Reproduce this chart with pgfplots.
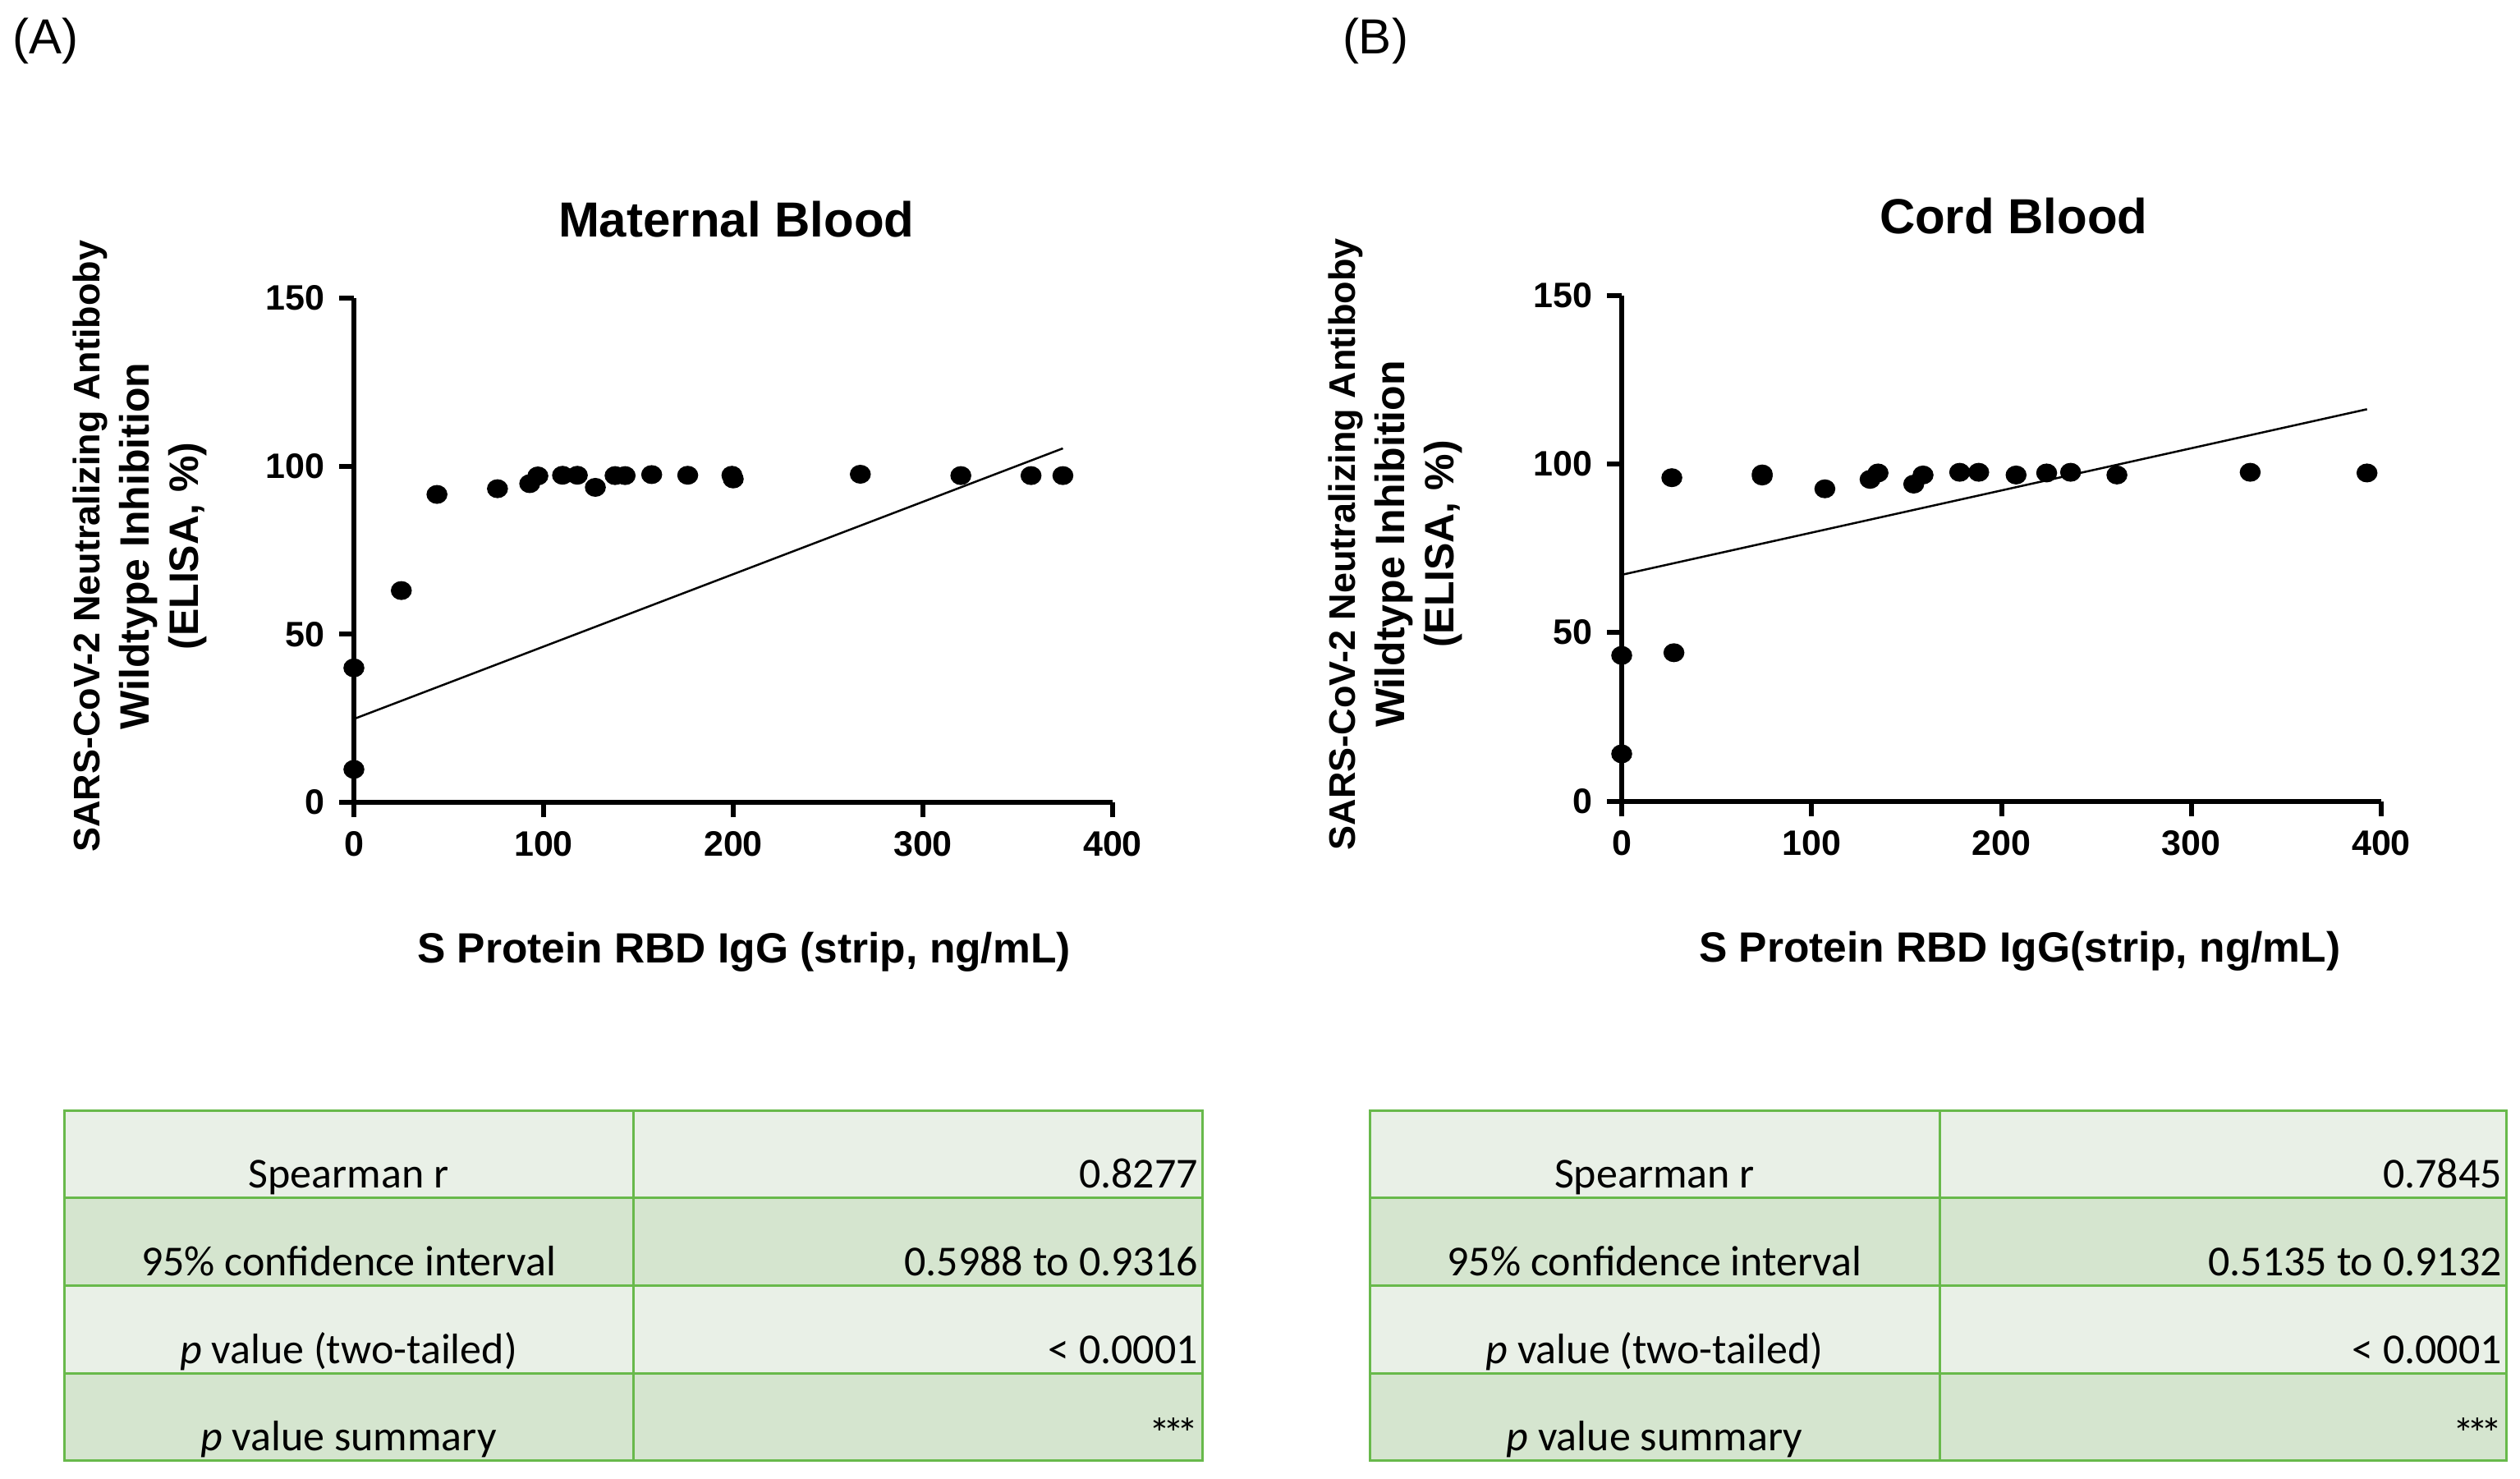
\documentclass[border=0pt]{standalone}
\usepackage{pgfplots}
\pgfplotsset{compat=1.18}
\usepackage{fontspec}
\setmainfont{Liberation Sans}
\newfontfamily\tabfont{Carlito}
\definecolor{gborder}{RGB}{104,185,75}
\definecolor{rowlight}{RGB}{233,240,231}
\definecolor{rowdark}{RGB}{213,229,207}

\pgfplotstableread{
x y
0 40.0
0 9.8
25 63
43.8 91.6
75.7 93.3
92.7 94.8
97 97.1
110 97.3
117.8 97.3
127.3 93.7
137.7 97.2
143 97.2
157 97.5
176 97.3
199.3 97.3
200 96.2
267 97.6
320 97.2
357 97.2
373.8 97.2
}\maternal

\pgfplotstableread{
x y
0 43.2
0 14.0
26.4 95.9
27.5 44.0
74 96.4
74 97.0
107 92.6
130.8 95.4
135 97.3
153.8 94
158.7 96.7
178 97.5
188 97.5
207.7 96.7
223.8 97.3
236.4 97.5
260.8 96.7
331 97.5
392.5 97.3
}\cord

\newcommand{\ylab}{{\fontsize{9}{12}\selectfont SARS-CoV-2 Neutralizing Antiboby}\\Wildtype Inhibition\\(ELISA, \%)}

\pgfplotsset{gp/.style={
  scale only axis,
  xmin=0,xmax=400,ymin=0,ymax=150,
  axis x line=bottom, axis y line=left,
  axis line style={line width=1.2pt,-},
  xtick={0,100,200,300,400}, ytick={0,50,100,150},
  tick align=outside, major tick length=3.6pt,
  every tick/.style={line width=1.2pt,black},
  /pgf/number format/assume math mode=true,
  ticklabel style={font=\bfseries\fontsize{8.6}{10}\selectfont},
  clip=false,
  every axis title shift=0pt,
  title style={font=\bfseries\fontsize{12}{14}\selectfont, anchor=base},
  ylabel style={font=\bfseries\fontsize{10}{12}\selectfont, align=center, anchor=center},
  xlabel style={font=\bfseries\fontsize{10.3}{12}\selectfont, anchor=base},
  dots/.style={only marks, mark=*, mark size=2.1pt, mark options={xscale=1.12, fill=black, draw=black}},
  fitline/.style={no marks, line width=0.5pt, black},
}}

\begin{document}
\begin{tikzpicture}
\path[use as bounding box] (0pt,0pt) rectangle (613.8pt,360pt);

% panel labels
\node[anchor=base west, inner sep=0pt, font=\fontsize{12}{14}\selectfont] at (3.0pt,347pt) {(A)};
\node[anchor=base west, inner sep=0pt, font=\fontsize{12}{14}\selectfont] at (326.8pt,347pt) {(B)};

% ---- Maternal blood
\begin{axis}[gp, at={(86.2pt,164.6pt)}, anchor=origin, width=184.8pt, height=122.8pt,
  title={Maternal Blood},
  title style={at={(axis description cs:0.504,1.122)}},
  xlabel={S Protein RBD IgG (strip, ng/mL)},
  xlabel style={at={(axis description cs:0.514,-0.3176)}},
  ylabel={\ylab},
  ylabel style={at={(axis description cs:-0.282,0.508)}},
]
\addplot[dots] table[x=x,y=y] {\maternal};
\addplot[fitline] coordinates {(0,24.8) (373.8,105.3)};
\end{axis}

% ---- Cord blood
\begin{axis}[gp, at={(395pt,164.9pt)}, anchor=origin, width=185pt, height=123.2pt,
  title={Cord Blood},
  title style={at={(axis description cs:0.516,1.121)}},
  xlabel={S Protein RBD IgG(strip, ng/mL)},
  xlabel style={at={(axis description cs:0.524,-0.3176)}},
  ylabel={\ylab},
  ylabel style={at={(axis description cs:-0.2975,0.508)}},
]
\addplot[dots] table[x=x,y=y] {\cord};
\addplot[fitline] coordinates {(0,67.1) (392.5,116.2)};
\end{axis}

% ---- tables
\tikzset{tabtxt/.style={inner sep=0pt, font=\tabfont\fontsize{10.4}{12}\selectfont}}
\foreach \xl/\xs/\xr/\va/\vb/\vc in {15.6/154.2/292.8/0.8277/0.5988 to 0.9316/{< 0.0001}, 333.6/472.4/610.4/0.7845/0.5135 to 0.9132/{< 0.0001}}{
  \fill[rowlight] (\xl pt,68.4pt) rectangle (\xr pt,89.6pt);
  \fill[rowdark]  (\xl pt,47.0pt) rectangle (\xr pt,68.4pt);
  \fill[rowlight] (\xl pt,25.6pt) rectangle (\xr pt,47.0pt);
  \fill[rowdark]  (\xl pt,4.4pt)  rectangle (\xr pt,25.6pt);
  \draw[gborder, line width=0.6pt] (\xl pt,4.4pt) rectangle (\xr pt,89.6pt);
  \foreach \yy in {25.6,47.0,68.4} \draw[gborder, line width=0.6pt] (\xl pt,\yy pt) -- (\xr pt,\yy pt);
  \draw[gborder, line width=0.6pt] (\xs pt,4.4pt) -- (\xs pt,89.6pt);
  \pgfmathsetmacro{\xc}{(\xl+\xs)/2}
  \pgfmathsetmacro{\xv}{\xr-0.8}
  \node[tabtxt, anchor=base] at (\xc pt,70.8pt) {Spearman r};
  \node[tabtxt, anchor=base] at (\xc pt,49.4pt) {95\% confidence interval};
  \node[tabtxt, anchor=base] at (\xc pt,28.0pt) {\textit{p} value (two-tailed)};
  \node[tabtxt, anchor=base] at (\xc pt,6.8pt) {\textit{p} value summary};
  \node[tabtxt, anchor=base east] at (\xv pt,70.8pt) {\va};
  \node[tabtxt, anchor=base east] at (\xv pt,49.4pt) {\vb};
  \node[tabtxt, anchor=base east] at (\xv pt,28.0pt) {\vc};
  \node[tabtxt, anchor=base east] at (\xv pt,7.4pt) {*\kern-1.8pt*\kern-1.8pt*};
}
\end{tikzpicture}
\end{document}
